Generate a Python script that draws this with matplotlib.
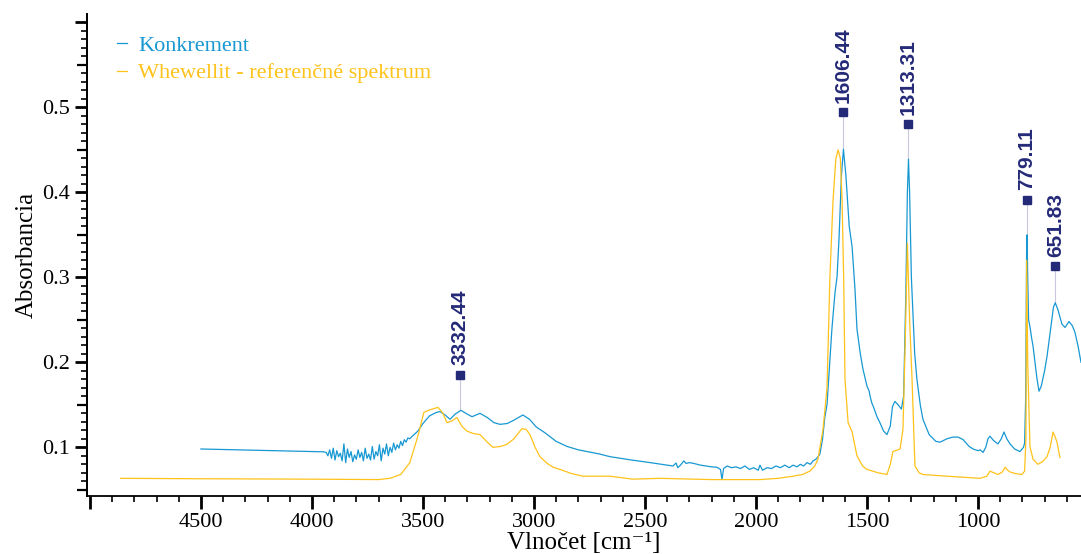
import matplotlib
matplotlib.use('Agg')
import matplotlib.pyplot as plt
from matplotlib.ticker import MultipleLocator, FuncFormatter

plt.rcParams['font.family'] = ['Liberation Serif', 'DejaVu Serif']

# Konkrement (blue)
konk_wn = [4500, 4300, 4100, 3950,
           3936, 3928, 3920, 3912, 3904, 3896, 3888, 3880, 3872, 3864, 3856, 3848,
           3840, 3832, 3824, 3816, 3808, 3800, 3792, 3784, 3776, 3768, 3760, 3752,
           3744, 3736, 3728, 3720, 3712, 3704, 3696, 3688, 3680, 3672, 3664, 3656,
           3648, 3640, 3632, 3624, 3616, 3608, 3600, 3592, 3584, 3576, 3568, 3560,
           3540, 3523, 3500, 3470, 3440, 3423, 3400, 3378, 3355, 3329, 3300, 3279,
           3243, 3210, 3180, 3153, 3120, 3090, 3050, 3020, 2990, 2950, 2900, 2851,
           2800, 2703, 2658, 2560, 2477, 2400, 2374, 2360, 2352, 2340, 2325, 2315,
           2300, 2280, 2250, 2200, 2176, 2160, 2153, 2146, 2130, 2110, 2090, 2070,
           2050, 2030, 2010, 1990, 1982, 1970, 1950, 1930, 1910, 1890, 1870, 1850,
           1833, 1815, 1800, 1785, 1770, 1755, 1743, 1730, 1720, 1712, 1700, 1690,
           1680, 1670, 1658, 1644, 1635, 1626, 1615, 1606, 1595, 1580, 1567, 1554,
           1545, 1530, 1518, 1500, 1490, 1486, 1478, 1470, 1462, 1455, 1440, 1425,
           1410, 1395, 1385, 1374, 1360, 1345, 1335, 1325, 1318, 1313, 1308, 1300,
           1293, 1285, 1275, 1260, 1248, 1220, 1190, 1171, 1140, 1113, 1090, 1067,
           1040, 1022, 1000, 990, 977, 965, 955, 946, 930, 910, 895, 883,
           870, 856, 835, 811, 795, 790, 785, 781, 779, 776, 772, 766,
           758, 752, 734, 725, 715, 700, 689, 670, 660, 652, 640, 622,
           608, 590, 575, 563, 550, 536]
konk_abs = [0.098, 0.0968, 0.0957, 0.0947,
            0.094, 0.090, 0.097, 0.087, 0.099, 0.085, 0.096, 0.089, 0.093, 0.084, 0.104, 0.082,
            0.098, 0.088, 0.095, 0.083, 0.091, 0.086, 0.097, 0.088, 0.094, 0.084, 0.099, 0.087,
            0.092, 0.085, 0.101, 0.086, 0.095, 0.090, 0.103, 0.084, 0.099, 0.092, 0.104, 0.090,
            0.100, 0.094, 0.105, 0.097, 0.103, 0.099, 0.107, 0.102, 0.109, 0.106, 0.111, 0.110,
            0.115, 0.119, 0.128, 0.137, 0.141, 0.142, 0.138, 0.133, 0.139, 0.1435, 0.139, 0.136,
            0.140, 0.135, 0.129, 0.127, 0.128, 0.132, 0.138, 0.133, 0.124, 0.117, 0.107, 0.101,
            0.097, 0.092, 0.089, 0.085, 0.082, 0.079, 0.078, 0.0815, 0.076, 0.079, 0.084, 0.081,
            0.082, 0.081, 0.079, 0.077, 0.0765, 0.074, 0.062, 0.075, 0.078, 0.076, 0.077, 0.075,
            0.078, 0.074, 0.076, 0.073, 0.079, 0.073, 0.076, 0.075, 0.078, 0.076, 0.079, 0.076,
            0.079, 0.077, 0.080, 0.078, 0.082, 0.080, 0.084, 0.086, 0.089, 0.092, 0.110, 0.135,
            0.150, 0.190, 0.239, 0.282, 0.300, 0.345, 0.420, 0.4506, 0.420, 0.360, 0.336, 0.286,
            0.239, 0.210, 0.192, 0.172, 0.166, 0.160, 0.152, 0.147, 0.141, 0.136, 0.128, 0.119,
            0.115, 0.125, 0.148, 0.154, 0.150, 0.145, 0.160, 0.280, 0.400, 0.439, 0.400, 0.300,
            0.259, 0.210, 0.180, 0.150, 0.133, 0.115, 0.107, 0.106, 0.110, 0.112, 0.112, 0.109,
            0.101, 0.098, 0.096, 0.097, 0.094, 0.100, 0.110, 0.113, 0.108, 0.104, 0.110, 0.118,
            0.110, 0.104, 0.098, 0.095, 0.100, 0.105, 0.160, 0.330, 0.350, 0.300, 0.250, 0.242,
            0.228, 0.219, 0.180, 0.166, 0.172, 0.190, 0.207, 0.245, 0.265, 0.270, 0.262, 0.245,
            0.241, 0.248, 0.243, 0.235, 0.220, 0.200]

# Whewellit reference spectrum (yellow)
whew_wn = [4861, 4500, 4000, 3700, 3649, 3600, 3559, 3523, 3496, 3470, 3432, 3410,
           3392, 3370, 3347, 3325, 3302, 3270, 3243, 3210, 3185, 3150, 3122, 3090,
           3054, 3035, 3018, 2995, 2973, 2940, 2914, 2883, 2830, 2779, 2658, 2554,
           2432, 2200, 1982, 1900, 1833, 1790, 1757, 1735, 1721, 1698, 1680, 1667,
           1653, 1640, 1630, 1620, 1612, 1605, 1599, 1585, 1567, 1545, 1520, 1500,
           1450, 1410, 1395, 1383, 1351, 1338, 1328, 1318, 1308, 1297, 1284, 1265,
           1248, 1140, 991, 960, 946, 928, 910, 890, 878, 866, 856, 830,
           802, 790, 784, 781, 776, 766, 752, 730, 710, 689, 675, 662,
           652, 644, 631]
whew_abs = [0.0635, 0.063, 0.0625, 0.062, 0.0635, 0.068, 0.082, 0.113, 0.141, 0.144, 0.147, 0.140,
            0.129, 0.131, 0.135, 0.125, 0.119, 0.116, 0.115, 0.106, 0.100, 0.101, 0.1035, 0.110,
            0.122, 0.121, 0.115, 0.100, 0.089, 0.081, 0.0765, 0.074, 0.069, 0.066, 0.066, 0.0625,
            0.0635, 0.062, 0.062, 0.0635, 0.066, 0.068, 0.072, 0.078, 0.086, 0.121, 0.170, 0.300,
            0.390, 0.440, 0.450, 0.440, 0.390, 0.300, 0.180, 0.129, 0.118, 0.090, 0.078, 0.074,
            0.070, 0.068, 0.080, 0.095, 0.098, 0.121, 0.220, 0.340, 0.250, 0.180, 0.078, 0.070,
            0.068, 0.066, 0.0635, 0.066, 0.072, 0.070, 0.068, 0.071, 0.0765, 0.073, 0.071, 0.069,
            0.068, 0.072, 0.110, 0.320, 0.200, 0.101, 0.086, 0.080, 0.083, 0.089, 0.100, 0.118,
            0.112, 0.106, 0.088]

# labelled peaks
peak_wn = [3332.44, 1606.44, 1313.31, 779.11, 651.83]
peak_top = [0.1435, 0.4506, 0.439, 0.350, 0.270]
marker_abs = [0.185, 0.494, 0.480, 0.391, 0.313]

blue = '#1798d2'
yellow = '#ffc21a'
navy = '#252a78'

fig = plt.figure(figsize=(10.81, 5.54), dpi=100)
ax = fig.add_axes([0.0805, 0.1047, 0.9195, 0.870])

ax.plot(konk_wn, konk_abs, color=blue, lw=0.9, label='Konkrement')
ax.plot(whew_wn, whew_abs, color=yellow, lw=0.9, label='Whewellit - referenčné spektrum')

for wn, top, m in zip(peak_wn, peak_top, marker_abs):
    ax.plot([wn, wn], [top, m], color='#c8c8de', lw=0.8, zorder=1)
    ax.plot(wn, m, 's', color=navy, ms=6, zorder=3)
    ax.annotate(f'{wn:.2f}', (wn, m), xytext=(0, 7), textcoords='offset points',
                rotation=90, ha='center', va='bottom', color=navy,
                fontsize=15, fontweight='bold', family='Liberation Sans')

ax.set_xlim(5013, 536)
ax.set_ylim(0.0427, 0.6098)

for s in ['top', 'right']:
    ax.spines[s].set_visible(False)
for s in ['left', 'bottom']:
    ax.spines[s].set_linewidth(1.3)

ax.xaxis.set_major_locator(MultipleLocator(500))
ax.xaxis.set_minor_locator(MultipleLocator(100))
ax.yaxis.set_major_locator(MultipleLocator(0.1))
ax.yaxis.set_minor_locator(MultipleLocator(0.01))
ax.xaxis.set_major_formatter(FuncFormatter(lambda v, p: '' if v > 4900 else f'{v:.0f}'))
ax.yaxis.set_major_formatter(FuncFormatter(lambda v, p: '' if v > 0.55 else f'{v:.1f}'))
ax.tick_params(which='major', direction='out', length=9, width=2, labelsize=16)
ax.tick_params(which='minor', direction='out', length=4, width=1.2)

# medium ticks every 0.05 on the absorbance axis
sec = ax.secondary_yaxis('left')
sec.set_yticks([0.05, 0.15, 0.25, 0.35, 0.45, 0.55])
sec.tick_params(direction='out', length=7, width=1.6, labelleft=False)
sec.spines['left'].set_linewidth(1.3)

ax.set_xlabel('Vlnočet [cm⁻¹]', fontsize=18, labelpad=0)
ax.set_ylabel('Absorbancia', fontsize=18, labelpad=3)

ax.legend(loc='upper left', bbox_to_anchor=(0.03, 0.955), frameon=False,
          handlelength=0.45, handletextpad=0.5, labelspacing=0.3,
          borderpad=0, borderaxespad=0, fontsize=16, labelcolor='linecolor')

fig.savefig('out.png', dpi=100)
